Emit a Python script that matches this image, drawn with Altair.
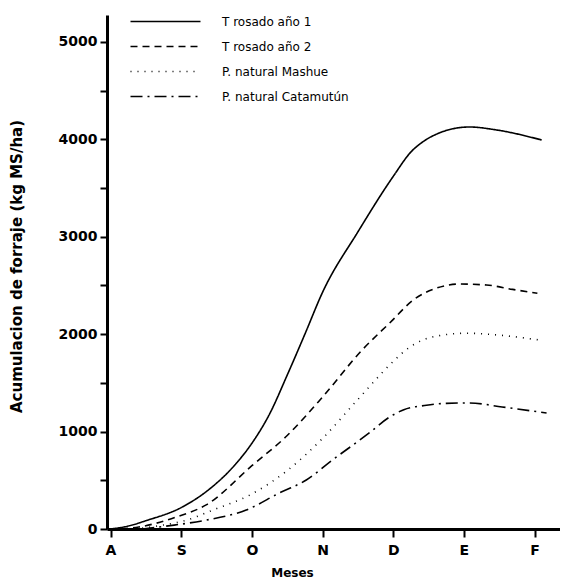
import altair as alt
import pandas as pd

# ---- data ----
month_labels = ["A", "S", "O", "N", "D", "E", "F"]
series_names = ["T rosado año 1", "T rosado año 2", "P. natural Mashue", "P. natural Catamutún"]

m_t1 = [0, 0.25, 0.5, 1.0, 1.4, 1.75, 2.0, 2.25, 2.5, 2.75, 3.0, 3.5, 4.0, 4.25, 4.45, 4.65, 4.85, 5.08, 5.46, 6.1]
v_t1 = [0, 30, 85, 220, 410, 650, 880, 1180, 1580, 2000, 2430, 3050, 3620, 3870, 3990, 4065, 4110, 4127, 4097, 3994]

m_t2 = [0.15, 0.4, 0.65, 0.93, 1.36, 2.0, 2.5, 3.0, 3.56, 3.95, 4.3, 4.6, 4.94, 5.32, 5.69, 6.04]
v_t2 = [0, 20, 60, 123, 250, 650, 960, 1355, 1838, 2115, 2360, 2470, 2515, 2505, 2460, 2420]

m_ma = [0.35, 0.7, 1.08, 1.45, 2.0, 2.5, 3.0, 3.5, 4.0, 4.2, 4.4, 4.65, 5.04, 5.5, 6.07]
v_ma = [0, 35, 92, 195, 360, 600, 930, 1330, 1720, 1850, 1935, 1985, 2010, 1990, 1940]

m_ca = [0.45, 0.9, 1.36, 1.92, 2.39, 2.77, 3.14, 3.66, 3.95, 4.15, 4.47, 4.75, 5.08, 5.54, 6.17]
v_ca = [0, 40, 92, 195, 370, 503, 708, 986, 1150, 1225, 1270, 1290, 1294, 1253, 1191]

rows = []
for name, ms, vs in zip(series_names, [m_t1, m_t2, m_ma, m_ca], [v_t1, v_t2, v_ma, v_ca]):
    for m, v in zip(ms, vs):
        rows.append({"serie": name, "m": m, "v": v})
df = pd.DataFrame(rows)

dashes = [[1, 0], [7, 5], [1, 6], [12, 5, 2, 5]]

label_expr = "[" + ",".join("'%s'" % s for s in month_labels) + "][datum.value]"
font = "DejaVu Sans"

chart = (
    alt.Chart(df)
    .mark_line(interpolate="monotone", color="black", strokeWidth=1.6)
    .encode(
        x=alt.X(
            "m:Q",
            scale=alt.Scale(domain=[-0.05, 6.36], nice=False, zero=False),
            axis=alt.Axis(
                values=list(range(len(month_labels))),
                labelExpr=label_expr,
                title="Meses",
                titleX=185,
                titleY=38,
                titleFontSize=12,
                titleFontWeight="bold",
                labelFontSize=14,
                labelFontWeight="bold",
                labelPadding=6,
                tickSize=8,
                labelOverlap=False,
            ),
        ),
        y=alt.Y(
            "v:Q",
            scale=alt.Scale(domain=[0, 5277], nice=False),
            axis=alt.Axis(
                values=list(range(0, 5001, 500)),
                labelExpr="datum.value % 1000 == 0 ? datum.value : ''",
                title="Acumulacion de forraje (kg MS/ha)",
                titleX=-83,
                titleY=251,
                titleFontSize=15,
                titleFontWeight="bold",
                labelFontSize=14,
                labelFontWeight="bold",
                labelPadding=3,
                tickSize=7,
                labelOverlap=False,
            ),
        ),
        strokeDash=alt.StrokeDash(
            "serie:N",
            scale=alt.Scale(domain=series_names, range=dashes),
            legend=alt.Legend(
                title=None,
                orient="none",
                legendX=40,
                legendY=-12,
                symbolType="M-2,0H2",
                symbolSize=1225,
                symbolStrokeWidth=1.6,
                symbolStrokeColor="black",
                symbolFillColor="transparent",
                labelFontSize=12,
                labelFont=font,
                labelOffset=38,
                rowPadding=0,
                padding=0,
            ),
        ),
        order=alt.Order("m:Q"),
    )
    .properties(
        width=453,
        height=514,
        autosize=alt.AutoSizeParams(type="none"),
        padding={"left": 99, "top": 7, "right": 0, "bottom": 54},
    )
    .configure_view(stroke=None)
    .configure_axis(
        grid=False,
        domainColor="black",
        domainWidth=3,
        tickColor="black",
        tickWidth=2,
        labelColor="black",
        titleColor="black",
        labelFont=font,
        titleFont=font,
    )
)

chart.save("out.html", embed_options={"renderer": "svg", "actions": False})
